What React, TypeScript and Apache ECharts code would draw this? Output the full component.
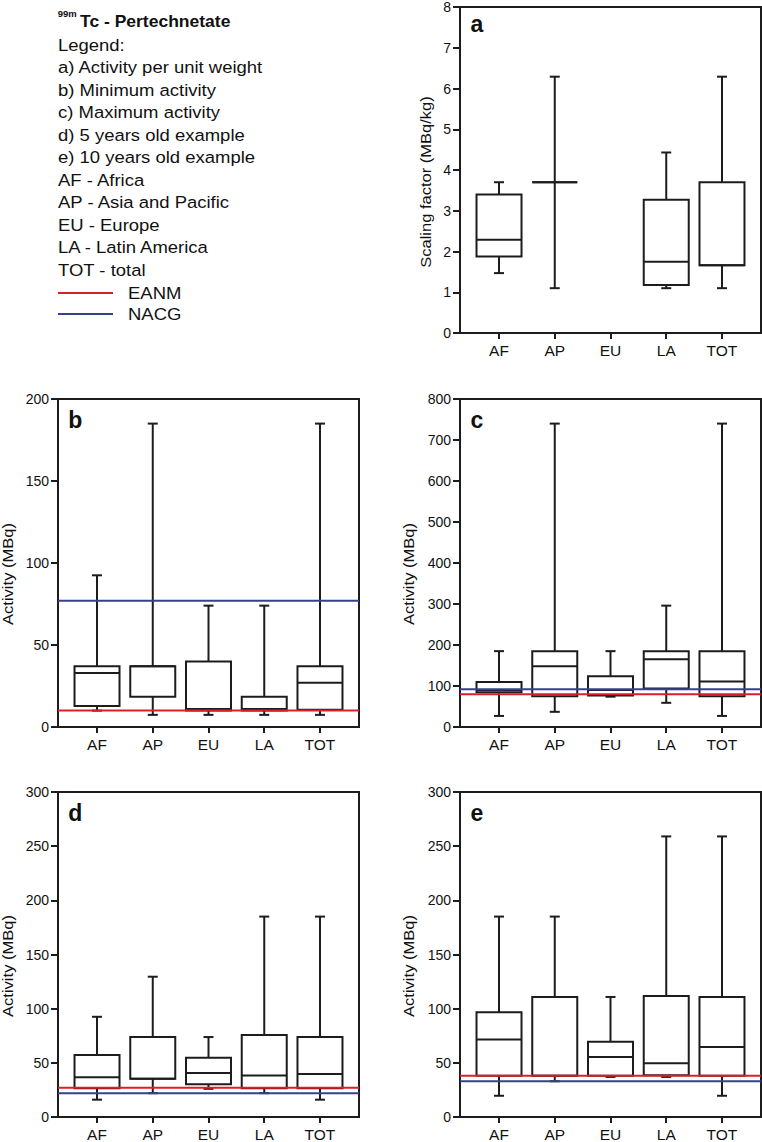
import React, { useEffect, useRef } from 'react';
import * as echarts from 'echarts';

const categories = ['AF', 'AP', 'EU', 'LA', 'TOT'];

// each entry: [min, q1, median, q3, max]; null = no data
const scalingFactor = [
  [1.47, 1.88, 2.29, 3.4, 3.7],
  [1.1, 3.7, 3.7, 3.7, 6.29],
  null,
  [1.1, 1.18, 1.75, 3.27, 4.43],
  [1.1, 1.66, 1.66, 3.7, 6.29],
];
const minimumActivity = [
  [10, 12.8, 33, 37, 92.5],
  [7.4, 18.5, 37, 37, 185],
  [7.4, 10, 11, 40, 74],
  [7.4, 10, 11, 18.5, 74],
  [7.4, 10.5, 27, 37, 185],
];
const maximumActivity = [
  [27, 85, 90, 110, 185],
  [37, 75, 148, 185, 740],
  [74, 77, 90, 124, 185],
  [59, 94, 165, 185, 296],
  [27, 75, 111, 185, 740],
];
const fiveYearOld = [
  [16, 26.6, 36.7, 57.3, 92.5],
  [22, 35.2, 35.2, 73.8, 129.5],
  [26, 30.3, 40.7, 54.8, 73.8],
  [22, 26.6, 38.3, 75.6, 185],
  [16, 26.6, 39.8, 73.8, 185],
];
const tenYearOld = [
  [19.6, 38, 71.6, 96.7, 185],
  [33, 38, 38, 110.8, 185],
  [37, 38, 55.4, 69.5, 110.8],
  [37, 38.5, 49.6, 111.7, 259],
  [19.6, 38, 64.6, 110.8, 259],
];

const eanmLevels = [null, 10, 80, 27, 38];
const nacgLevels = [null, 77, 92, 22, 33];
const yMax = [8, 200, 800, 300, 300];
const yInterval = [1, 50, 100, 50, 50];
const panelLetters = ['a', 'b', 'c', 'd', 'e'];
const yNames = [
  'Scaling factor (MBq/kg)',
  'Activity (MBq)',
  'Activity (MBq)',
  'Activity (MBq)',
  'Activity (MBq)',
];
const legendLines = [
  'Legend:',
  'a) Activity per unit weight',
  'b) Minimum activity',
  'c) Maximum activity',
  'd) 5 years old example',
  'e) 10 years old example',
  'AF - Africa',
  'AP - Asia and Pacific',
  'EU - Europe',
  'LA - Latin America',
  'TOT - total',
];
const refNames = ['EANM', 'NACG'];

const panelData = [scalingFactor, minimumActivity, maximumActivity, fiveYearOld, tenYearOld];

// layout
const grids = [
  { left: 460, top: 7, width: 301, height: 326 },
  { left: 58, top: 399, width: 301, height: 328 },
  { left: 460, top: 399, width: 301, height: 328 },
  { left: 58, top: 792, width: 301, height: 327 },
  { left: 460, top: 792, width: 301, height: 327 },
];
const letterPos = [
  [470.5, 23.5],
  [68.3, 420],
  [470.5, 420],
  [68.3, 813],
  [470.5, 813],
];
const namePos = [
  [425.7, 182],
  [7.5, 574],
  [409, 574],
  [7.5, 966],
  [409, 966],
];

const INK = '#1c1c1c';
const RED = '#d8202c';
const BLUE = '#34428c';
const FONT = '"Liberation Sans", Arial, sans-serif';

export default function App() {
  const ref = useRef<HTMLDivElement>(null);
  useEffect(() => {
    if (!ref.current) return;
    const chart = echarts.init(ref.current, null, { renderer: 'svg' });

    const xAxis: any[] = [];
    const yAxis: any[] = [];
    const series: any[] = [];
    const graphic: any[] = [];

    grids.forEach((g, i) => {
      xAxis.push({
        type: 'value',
        gridIndex: i,
        min: 0.3,
        max: 5.7,
        splitLine: { show: false },
        axisLine: { show: true, lineStyle: { color: INK, width: 2 } },
        axisTick: {
          show: true,
          customValues: [1, 2, 3, 4, 5],
          length: 6,
          lineStyle: { color: INK, width: 2 },
        },
        axisLabel: {
          customValues: [1, 2, 3, 4, 5],
          formatter: (v: number) => categories[Math.round(v) - 1] || '',
          color: '#111',
          fontSize: 15.5,
          fontFamily: FONT,
          margin: 9,
        },
      });
      yAxis.push({
        type: 'value',
        gridIndex: i,
        min: 0,
        max: yMax[i],
        interval: yInterval[i],
        splitLine: { show: false },
        axisLine: { show: true, lineStyle: { color: INK, width: 2 } },
        axisTick: { show: true, length: 7, lineStyle: { color: INK, width: 2 } },
        axisLabel: { color: '#111', fontSize: 14, fontFamily: FONT, margin: 9 },
      });

      const data = panelData[i]
        .map((v, k) => (v ? [k + 1, ...v] : null))
        .filter((d) => d !== null);

      series.push({
        type: 'custom',
        xAxisIndex: i,
        yAxisIndex: i,
        z: 2,
        encode: { x: 0, y: [1, 2, 3, 4, 5] },
        data,
        renderItem: (params: any, api: any) => {
          const x = api.value(0);
          const pMin = api.coord([x, api.value(1)]);
          const pQ1 = api.coord([x, api.value(2)]);
          const pMed = api.coord([x, api.value(3)]);
          const pQ3 = api.coord([x, api.value(4)]);
          const pMax = api.coord([x, api.value(5)]);
          const cx = pMin[0];
          const hb = 22.5;
          const hc = 5;
          const st = { stroke: INK, lineWidth: 2, fill: 'none' };
          return {
            type: 'group',
            children: [
              { type: 'line', shape: { x1: cx, y1: pMax[1], x2: cx, y2: pQ3[1] }, style: st },
              { type: 'line', shape: { x1: cx, y1: pQ1[1], x2: cx, y2: pMin[1] }, style: st },
              { type: 'line', shape: { x1: cx - hc, y1: pMax[1], x2: cx + hc, y2: pMax[1] }, style: st },
              { type: 'line', shape: { x1: cx - hc, y1: pMin[1], x2: cx + hc, y2: pMin[1] }, style: st },
              {
                type: 'rect',
                shape: { x: cx - hb, y: pQ3[1], width: hb * 2, height: pQ1[1] - pQ3[1] },
                style: st,
              },
              { type: 'line', shape: { x1: cx - hb, y1: pMed[1], x2: cx + hb, y2: pMed[1] }, style: st },
            ],
          };
        },
      });

      const eanm = eanmLevels[i];
      const nacg = nacgLevels[i];
      if (nacg !== null) {
        series.push({
          type: 'line',
          name: 'NACG',
          xAxisIndex: i,
          yAxisIndex: i,
          z: 4,
          symbol: 'none',
          silent: true,
          lineStyle: { color: BLUE, width: 2 },
          data: [
            [0.3, nacg],
            [5.7, nacg],
          ],
        });
      }
      if (eanm !== null) {
        series.push({
          type: 'line',
          name: 'EANM',
          xAxisIndex: i,
          yAxisIndex: i,
          z: 4,
          symbol: 'none',
          silent: true,
          lineStyle: { color: RED, width: 2 },
          data: [
            [0.3, eanm],
            [5.7, eanm],
          ],
        });
      }

      graphic.push({
        type: 'text',
        x: letterPos[i][0],
        y: letterPos[i][1],
        style: {
          text: panelLetters[i],
          font: `bold 23px ${FONT}`,
          fill: '#111',
          textAlign: 'left',
          textVerticalAlign: 'middle',
        },
      });
      graphic.push({
        type: 'text',
        x: namePos[i][0],
        y: namePos[i][1],
        rotation: Math.PI / 2,
        scaleX: 1.08,
        style: {
          text: yNames[i],
          font: `15.3px ${FONT}`,
          fill: '#111',
          textAlign: 'center',
          textVerticalAlign: 'middle',
        },
      });
    });

    // Legend block
    graphic.push({
      type: 'text',
      x: 57.7,
      y: 13.4,
      style: { text: '99m', font: `bold 9.5px ${FONT}`, fill: '#111', textVerticalAlign: 'middle' },
    });
    graphic.push({
      type: 'text',
      x: 80,
      y: 21.7,
      scaleX: 1.08,
      style: {
        text: 'Tc - Pertechnetate',
        font: `bold 16.2px ${FONT}`,
        fill: '#111',
        textVerticalAlign: 'middle',
      },
    });
    legendLines.forEach((t, k) => {
      graphic.push({
        type: 'text',
        x: 58,
        y: 50.7 + 22.5 * k - 5.8,
        scaleX: 1.1,
        style: { text: t, font: `16.8px ${FONT}`, fill: '#111', textVerticalAlign: 'middle' },
      });
    });
    const refColors = [RED, BLUE];
    const refY = [293, 314];
    refNames.forEach((t, k) => {
      graphic.push({
        type: 'line',
        shape: { x1: 58, y1: refY[k], x2: 113, y2: refY[k] },
        style: { stroke: refColors[k], lineWidth: 2 },
      });
      graphic.push({
        type: 'text',
        x: 128,
        y: refY[k],
        scaleX: 1.1,
        style: { text: t, font: `16.8px ${FONT}`, fill: '#111', textVerticalAlign: 'middle' },
      });
    });

    chart.setOption({
      animation: false,
      backgroundColor: '#ffffff',
      grid: grids.map((g) => ({
        ...g,
        show: true,
        borderColor: INK,
        borderWidth: 2,
        backgroundColor: 'transparent',
        containLabel: false,
      })),
      xAxis,
      yAxis,
      series,
      graphic,
    });

    return () => chart.dispose();
  }, []);

  return (
    <div
      ref={ref}
      style={{ position: 'absolute', left: 0, top: 0, width: 762, height: 1142, background: '#fff' }}
    />
  );
}
